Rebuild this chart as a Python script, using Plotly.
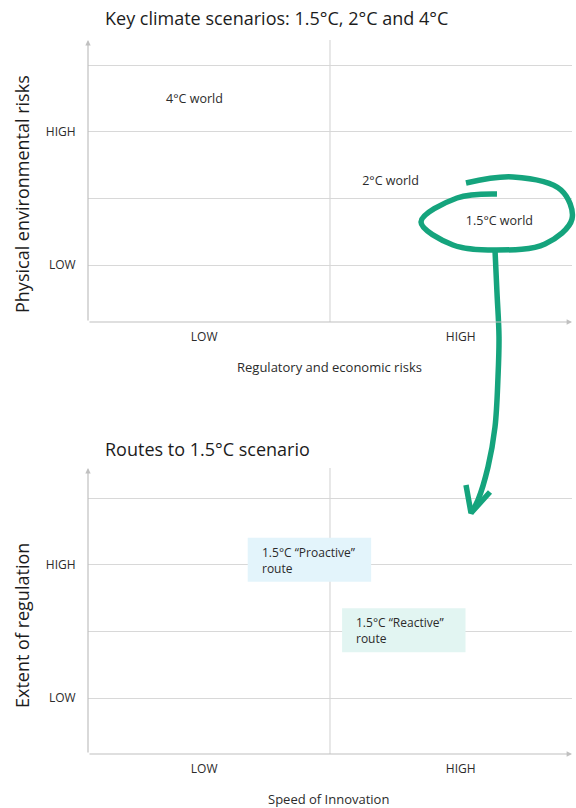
import plotly.graph_objects as go

W, H = 576, 808

# ---------------- data ----------------
top_title = "Key climate scenarios: 1.5°C, 2°C and 4°C"
bottom_title = "Routes to 1.5°C scenario"

x_tick_vals = [0.48, 1.54]
x_tick_text = ["LOW", "HIGH"]
y_tick_vals = [1, 2, 3, 4]
y_tick_text = ["LOW", "", "HIGH", ""]

scenario_names = ["4°C world", "2°C world", "1.5°C world"]
scenario_x = [0.44, 1.25, 1.70]
scenario_y = [3.47, 2.24, 1.64]

route_names = ["1.5°C “Proactive”<br>route", "1.5°C “Reactive”<br>route"]
route_text_x = [0.71, 1.10]
route_text_y = [3.07, 2.02]
route_box_x0 = [0.66, 1.05]
route_box_x1 = [1.17, 1.56]
route_box_y0 = [2.745, 1.685]
route_box_y1 = [3.405, 2.345]
route_colors = ["#e3f4fb", "#e2f5f2"]

# hand-drawn green loop + arrow (figure pixel space)
loop_px_x = [497, 457, 421, 453, 495, 545, 572, 561, 513, 466]
loop_px_y = [194, 198, 222, 245, 250, 244, 219, 190, 177, 183]
shaft_px_x = [495, 497, 499, 498, 495, 488, 478, 471]
shaft_px_y = [250, 293, 337, 377, 427, 467, 500, 513]
head_px_x = [466, 471, 490]
head_px_y = [485, 513, 492]

GREEN = "#15a47d"
GRID = "#d8d8d8"
AXIS = "#c0c0c0"
TXT = "#2b2b2b"
FONT = "Open Sans"

x_range = [0, 2]
y_top_range = [0.145, 4.375]
y_bot_range = [0.16, 4.45]

fig = go.Figure()

# top subplot labels
fig.add_trace(go.Scatter(
    x=scenario_x, y=scenario_y, text=scenario_names, mode="text",
    textfont=dict(family=FONT, size=12.5, color=TXT),
    xaxis="x", yaxis="y", hoverinfo="skip", showlegend=False, cliponaxis=False))
# invisible trace for bottom subplot
fig.add_trace(go.Scatter(
    x=route_text_x, y=route_text_y, mode="markers", marker=dict(opacity=0),
    xaxis="x2", yaxis="y2", hoverinfo="skip", showlegend=False))

# green loop and arrow
for xs, ys, shp in [(loop_px_x, loop_px_y, "spline"), (shaft_px_x, shaft_px_y, "spline"),
                    (head_px_x, head_px_y, "linear")]:
    fig.add_trace(go.Scatter(
        x=xs, y=ys, mode="lines",
        line=dict(color=GREEN, width=5.5, shape=shp, smoothing=1.0),
        xaxis="x3", yaxis="y3", hoverinfo="skip", showlegend=False, cliponaxis=False))

xd = [88 / W, 572 / W]
common_x = dict(domain=xd, range=x_range, showgrid=False, zeroline=False, showline=False,
                tickvals=x_tick_vals, ticktext=x_tick_text, ticks="outside", ticklen=4,
                tickcolor="rgba(0,0,0,0)", tickfont=dict(family=FONT, size=12, color=TXT),
                fixedrange=True)
common_y = dict(showgrid=True, gridcolor=GRID, gridwidth=1, zeroline=False, showline=False,
                tickvals=y_tick_vals, ticktext=y_tick_text, ticks="outside", ticklen=9,
                tickcolor="rgba(0,0,0,0)", tickfont=dict(family=FONT, size=12, color=TXT),
                fixedrange=True)

fig.update_layout(
    width=W, height=H, margin=dict(l=0, r=0, t=0, b=0),
    paper_bgcolor="white", plot_bgcolor="rgba(0,0,0,0)",
    showlegend=False,
    xaxis=dict(**common_x, anchor="y"),
    yaxis=dict(**common_y, domain=[1 - 322 / H, 1 - 40 / H], range=y_top_range, anchor="x"),
    xaxis2=dict(**common_x, anchor="y2"),
    yaxis2=dict(**common_y, domain=[1 - 754 / H, 1 - 468 / H], range=y_bot_range, anchor="x2"),
    xaxis3=dict(domain=[0, 1], range=[0, W], visible=False, anchor="y3", fixedrange=True),
    yaxis3=dict(domain=[0, 1], range=[H, 0], visible=False, anchor="x3", fixedrange=True),
)

shapes = []
annotations = []
for xr, yr, yrange in [("x", "y", y_top_range), ("x2", "y2", y_bot_range)]:
    shapes.append(dict(type="line", xref=xr, yref=yr, x0=1, x1=1, y0=yrange[0], y1=yrange[1],
                       line=dict(color=GRID, width=1.2), layer="above"))
    annotations.append(dict(xref=xr, yref=yr, axref=xr, ayref=yr, x=0, y=yrange[1],
                            ax=0, ay=yrange[0], text="", showarrow=True, arrowhead=2,
                            arrowsize=0.9, arrowwidth=1.2, arrowcolor=AXIS, standoff=0, startstandoff=0))
    annotations.append(dict(xref=xr, yref=yr, axref=xr, ayref=yr, x=x_range[1], y=yrange[0],
                            ax=0, ay=yrange[0], text="", showarrow=True, arrowhead=2,
                            arrowsize=0.9, arrowwidth=1.2, arrowcolor=AXIS, standoff=0, startstandoff=0))

for i in range(len(route_names)):
    shapes.append(dict(type="rect", xref="x2", yref="y2",
                       x0=route_box_x0[i], x1=route_box_x1[i],
                       y0=route_box_y0[i], y1=route_box_y1[i],
                       fillcolor=route_colors[i], line=dict(width=0), layer="above"))
    annotations.append(dict(xref="x2", yref="y2", x=route_text_x[i], y=route_text_y[i],
                            text=route_names[i], showarrow=False, xanchor="left", yanchor="middle",
                            align="left", font=dict(family=FONT, size=12, color=TXT)))

annotations += [
    dict(xref="paper", yref="paper", x=103 / W, y=1 - 18 / H, text=top_title, showarrow=False,
         xanchor="left", yanchor="middle", font=dict(family=FONT, size=18, color="#1c1c1c")),
    dict(xref="paper", yref="paper", x=103 / W, y=1 - 449 / H, text=bottom_title, showarrow=False,
         xanchor="left", yanchor="middle", font=dict(family=FONT, size=18, color="#1c1c1c")),
    dict(xref="paper", yref="paper", x=22 / W, y=1 - 194 / H, text="Physical environmental risks",
         showarrow=False, textangle=-90, xanchor="center", yanchor="middle",
         font=dict(family=FONT, size=18, color="#1c1c1c")),
    dict(xref="paper", yref="paper", x=22 / W, y=1 - 626 / H, text="Extent of regulation",
         showarrow=False, textangle=-90, xanchor="center", yanchor="middle",
         font=dict(family=FONT, size=18, color="#1c1c1c")),
    dict(xref="paper", yref="paper", x=329 / W, y=1 - 367 / H, text="Regulatory and economic risks",
         showarrow=False, xanchor="center", yanchor="middle",
         font=dict(family=FONT, size=13, color=TXT)),
    dict(xref="paper", yref="paper", x=328 / W, y=1 - 799 / H, text="Speed of Innovation",
         showarrow=False, xanchor="center", yanchor="middle",
         font=dict(family=FONT, size=13, color=TXT)),
]

fig.update_layout(shapes=shapes, annotations=annotations)
fig.write_html("out.html")
